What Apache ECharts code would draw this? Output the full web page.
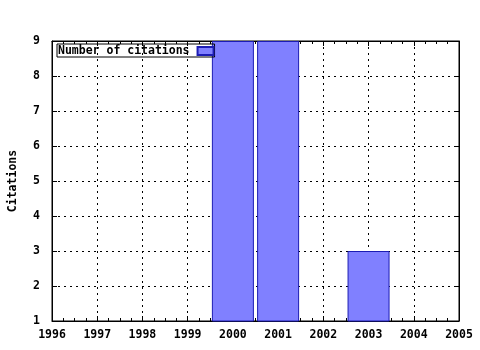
<!DOCTYPE html>
<html><head><meta charset="utf-8">
<script src="https://cdn.jsdelivr.net/npm/echarts@6/dist/echarts.min.js"></script>
<style>html,body{margin:0;padding:0;background:#fff}#c{width:480px;height:350px}</style>
</head><body><div id="c"></div>
<script>
const years = [2000, 2001, 2003];
const citations = [9, 9, 3];
const xTicks = [1996, 2005];
const yTicks = [1, 9];
const seriesName = 'Number of citations';
const yName = 'Citations';

const font = 'DejaVu Sans Mono';
const fs = 11.5;
const chart = echarts.init(document.getElementById('c'), null, {renderer: 'canvas'});
const dotted = {show: true, lineStyle: {color: '#000', type: [2, 4], width: 1}};
const axLine = {show: true, lineStyle: {color: '#000', width: 1}};
chart.setOption({
  animation: false,
  backgroundColor: '#fff',
  grid: {left: 52, right: 21, top: 41, bottom: 29, show: true, borderColor: '#000', borderWidth: 1, containLabel: false, outerBoundsMode: 'none'},
  legend: {
    show: true, left: 57, top: 44, orient: 'horizontal', align: 'right',
    itemWidth: 16, itemHeight: 8, itemGap: 4, icon: 'rect',
    padding: [1, 0, 0, 1], borderColor: '#000', borderWidth: 1,
    textStyle: {fontFamily: font, fontWeight: 'bold', fontSize: fs, color: '#000', padding: [0, 3, 0, 0]},
    data: [seriesName]
  },
  xAxis: [{
    type: 'value', min: xTicks[0], max: xTicks[1], interval: 1, position: 'bottom',
    axisLine: axLine,
    axisTick: {show: true, inside: true, length: 5, lineStyle: {color: '#000'}},
    minorTick: {show: true, splitNumber: 4, length: 3, lineStyle: {color: '#000'}},
    splitLine: dotted,
    axisLabel: {fontFamily: font, fontWeight: 'bold', fontSize: fs, color: '#000', margin: 8, formatter: v => String(v)}
  }, {
    type: 'value', min: xTicks[0], max: xTicks[1], interval: 1, position: 'top',
    axisLine: axLine,
    axisTick: {show: true, inside: true, length: 5, lineStyle: {color: '#000'}},
    minorTick: {show: true, splitNumber: 4, length: 3, lineStyle: {color: '#000'}},
    splitLine: {show: false}, axisLabel: {show: false}
  }],
  yAxis: [{
    type: 'value', min: yTicks[0], max: yTicks[1], interval: 1, position: 'left',
    name: yName, nameLocation: 'middle', nameGap: 33, nameRotate: 90,
    nameTextStyle: {fontFamily: font, fontWeight: 'bold', fontSize: fs, color: '#000'},
    axisLine: axLine,
    axisTick: {show: true, inside: true, length: 5, lineStyle: {color: '#000'}},
    splitLine: dotted,
    axisLabel: {fontFamily: font, fontWeight: 'bold', fontSize: fs, color: '#000', margin: 12}
  }, {
    type: 'value', min: yTicks[0], max: yTicks[1], interval: 1, position: 'right',
    axisLine: axLine,
    axisTick: {show: true, inside: true, length: 5, lineStyle: {color: '#000'}},
    splitLine: {show: false}, axisLabel: {show: false}
  }],
  series: [{
    name: seriesName, type: 'bar', xAxisIndex: 0, yAxisIndex: 0,
    barWidth: 42,
    data: years.map((y, i) => [y, citations[i]]),
    itemStyle: {color: '#8080ff', borderColor: '#1c1cb4', borderWidth: 1},
    clip: true
  }]
});
</script></body></html>
